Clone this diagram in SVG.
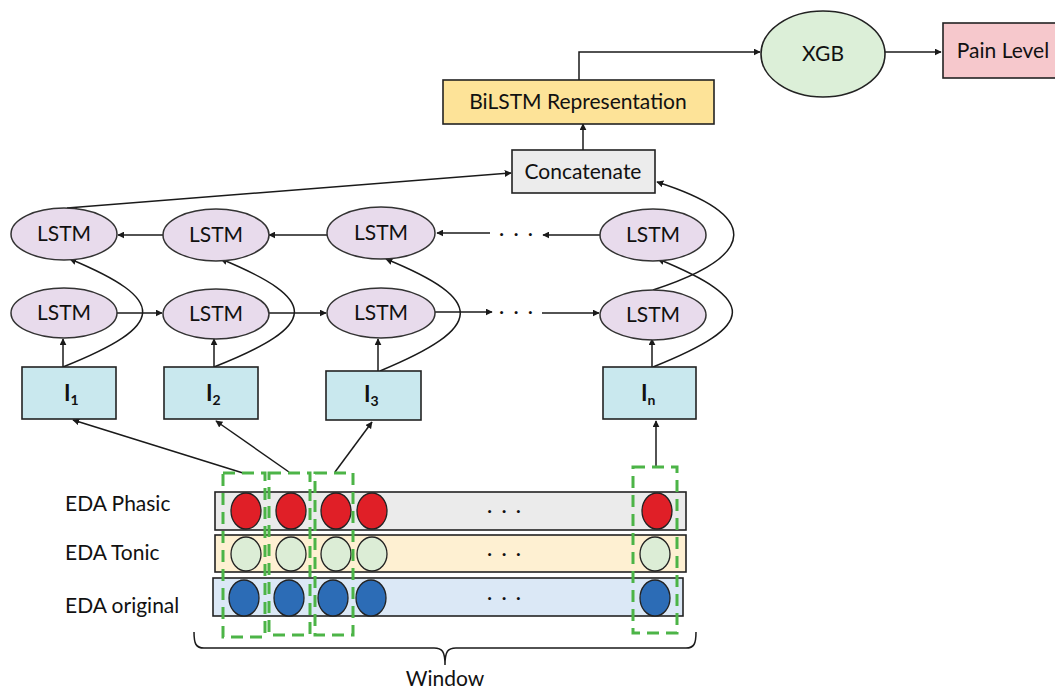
<svg xmlns="http://www.w3.org/2000/svg" width="1055" height="690" viewBox="0 0 1055 690">
  <defs>
    <marker id="arr" viewBox="0 0 10 10" refX="9" refY="5" markerWidth="7" markerHeight="7" markerUnits="userSpaceOnUse" orient="auto">
      <path d="M0,0 L10,5 L0,10 z" fill="#1a1a1a"/>
    </marker>
    <style>
      text { font-family: Lato, "Open Sans", "Liberation Sans", sans-serif; fill: #111; }
      .lbl { font-size: 21px; text-anchor: middle; }
      .side { font-size: 21px; }
      .box { stroke: #222; stroke-width: 1.6; }
      .lstm { fill: #e8dbec; stroke: #333; stroke-width: 1.5; }
      .inp { fill: #c9e8ee; stroke: #222; stroke-width: 1.6; }
      .conn { fill: none; stroke: #1a1a1a; stroke-width: 1.5; }
      .win { fill: none; stroke: #4cb447; stroke-width: 3; stroke-dasharray: 12 7; }
      .red { fill: #e01f27; stroke: #222; stroke-width: 1.3; }
      .grn { fill: #dcedd6; stroke: #222; stroke-width: 1.3; }
      .blu { fill: #2c6cb6; stroke: #222; stroke-width: 1.3; }
      .dots { font-size: 20px; text-anchor: middle; letter-spacing: 2px; }
      .iv { font-size: 22px; font-weight: bold; }
      .sub { font-size: 14px; font-weight: bold; }
    </style>
  </defs>

  <!-- connectors -->
  <g id="connectors" class="conn">
    <!-- output path -->
    <path d="M579,80 L579,52 L760,52" marker-end="url(#arr)"/>
    <path d="M885,52 L941,52" marker-end="url(#arr)"/>
    <path d="M583,150 L583,124" marker-end="url(#arr)"/>
    <path d="M67,208 L511,173" marker-end="url(#arr)"/>
    <path d="M653,290 C760,255 760,215 657,182" marker-end="url(#arr)"/>

    <!-- backward layer (right to left) -->
    <path d="M163,235 L118,235" marker-end="url(#arr)"/>
    <path d="M327,235 L269,235" marker-end="url(#arr)"/>
    <path d="M490,233 L437,233" marker-end="url(#arr)"/>
    <path d="M600,235 L543,235" marker-end="url(#arr)"/>

    <!-- forward layer (left to right) -->
    <path d="M117,313 L162,313" marker-end="url(#arr)"/>
    <path d="M268,313 L326,313" marker-end="url(#arr)"/>
    <path d="M435,312 L492,312" marker-end="url(#arr)"/>
    <path d="M542,313 L599,313" marker-end="url(#arr)"/>

    <!-- inputs into forward cells -->
    <path d="M63,367 L63,339" marker-end="url(#arr)"/>
    <path d="M214,367 L214,339" marker-end="url(#arr)"/>
    <path d="M378,371 L378,339" marker-end="url(#arr)"/>
    <path d="M652,367 L652,339" marker-end="url(#arr)"/>

    <!-- inputs into backward cells -->
    <path d="M63,367 C168,325 168,300 70,259" marker-end="url(#arr)"/>
    <path d="M214,367 C320,325 320,300 221,259" marker-end="url(#arr)"/>
    <path d="M380,371 C486,327 486,300 386,259" marker-end="url(#arr)"/>
    <path d="M653,367 C758,325 758,300 658,259" marker-end="url(#arr)"/>

    <!-- windows into input vectors -->
    <path d="M243,473 L73,420" marker-end="url(#arr)"/>
    <path d="M289,472 L216,421" marker-end="url(#arr)"/>
    <path d="M335,472 L372,422" marker-end="url(#arr)"/>
    <path d="M656,467 L656,421" marker-end="url(#arr)"/>
  </g>

  <!-- top pipeline -->
  <g id="xgb">
    <ellipse cx="823" cy="54" rx="62" ry="43" fill="#dcefd8" stroke="#222" stroke-width="1.6"/>
    <text class="lbl" x="823" y="61">XGB</text>
  </g>
  <g id="pain-level">
    <rect class="box" x="943" y="23" width="116" height="55" fill="#f6c8cc"/>
    <text class="lbl" x="1003" y="58">Pain Level</text>
  </g>
  <g id="bilstm-representation">
    <rect class="box" x="443" y="80" width="271" height="44" fill="#fde398"/>
    <text class="lbl" x="578" y="109">BiLSTM Representation</text>
  </g>
  <g id="concatenate">
    <rect class="box" x="512" y="150" width="143" height="43" fill="#ececec"/>
    <text class="lbl" x="583" y="179">Concatenate</text>
  </g>

  <!-- backward LSTM layer -->
  <g id="lstm-b1"><ellipse class="lstm" cx="64" cy="234" rx="53" ry="26"/><text class="lbl" x="64" y="241">LSTM</text></g>
  <g id="lstm-b2"><ellipse class="lstm" cx="216" cy="235" rx="53" ry="26"/><text class="lbl" x="216" y="242">LSTM</text></g>
  <g id="lstm-b3"><ellipse class="lstm" cx="381" cy="233" rx="54" ry="26"/><text class="lbl" x="381" y="240">LSTM</text></g>
  <g id="lstm-bn"><ellipse class="lstm" cx="653" cy="235" rx="53" ry="26"/><text class="lbl" x="653" y="242">LSTM</text></g>
  <text class="dots" x="517" y="240">· · ·</text>

  <!-- forward LSTM layer -->
  <g id="lstm-f1"><ellipse class="lstm" cx="64" cy="313" rx="53" ry="25"/><text class="lbl" x="64" y="320">LSTM</text></g>
  <g id="lstm-f2"><ellipse class="lstm" cx="216" cy="314" rx="53" ry="25"/><text class="lbl" x="216" y="321">LSTM</text></g>
  <g id="lstm-f3"><ellipse class="lstm" cx="381" cy="313" rx="54" ry="25"/><text class="lbl" x="381" y="320">LSTM</text></g>
  <g id="lstm-fn"><ellipse class="lstm" cx="653" cy="315" rx="53" ry="25"/><text class="lbl" x="653" y="322">LSTM</text></g>
  <text class="dots" x="517" y="318">· · ·</text>

  <!-- input vectors -->
  <g id="input-1"><rect class="inp" x="22" y="367" width="94" height="52"/><text class="iv" x="64" y="401">I<tspan class="sub" dy="4">1</tspan></text></g>
  <g id="input-2"><rect class="inp" x="164" y="367" width="94" height="52"/><text class="iv" x="206" y="401">I<tspan class="sub" dy="4">2</tspan></text></g>
  <g id="input-3"><rect class="inp" x="326" y="371" width="95" height="49"/><text class="iv" x="364" y="402">I<tspan class="sub" dy="4">3</tspan></text></g>
  <g id="input-n"><rect class="inp" x="603" y="367" width="93" height="52"/><text class="iv" x="641" y="401">I<tspan class="sub" dy="4">n</tspan></text></g>

  <!-- signal channels -->
  <g id="eda-phasic">
    <text class="side" x="65" y="511">EDA Phasic</text>
    <rect class="box" x="215" y="492" width="471" height="38" fill="#ebebeb"/>
    <ellipse class="red" cx="246" cy="511" rx="15" ry="18"/>
    <ellipse class="red" cx="291" cy="511" rx="15" ry="18"/>
    <ellipse class="red" cx="336" cy="511" rx="15" ry="18"/>
    <ellipse class="red" cx="372" cy="511" rx="15" ry="18"/>
    <ellipse class="red" cx="657" cy="511" rx="15" ry="18"/>
    <text class="dots" x="505" y="517">· · ·</text>
  </g>
  <g id="eda-tonic">
    <text class="side" x="65" y="560">EDA Tonic</text>
    <rect class="box" x="215" y="535" width="471" height="37" fill="#fef0d2"/>
    <ellipse class="grn" cx="246" cy="554" rx="15" ry="17"/>
    <ellipse class="grn" cx="291" cy="554" rx="15" ry="17"/>
    <ellipse class="grn" cx="336" cy="554" rx="15" ry="17"/>
    <ellipse class="grn" cx="372" cy="554" rx="15" ry="17"/>
    <ellipse class="grn" cx="655" cy="554" rx="15" ry="17"/>
    <text class="dots" x="505" y="560">· · ·</text>
  </g>
  <g id="eda-original">
    <text class="side" x="65" y="613">EDA original</text>
    <rect class="box" x="213" y="578" width="470" height="38" fill="#dbe8f6"/>
    <ellipse class="blu" cx="244" cy="598" rx="15" ry="18"/>
    <ellipse class="blu" cx="289" cy="598" rx="15" ry="18"/>
    <ellipse class="blu" cx="333" cy="598" rx="15" ry="18"/>
    <ellipse class="blu" cx="371" cy="598" rx="15" ry="18"/>
    <ellipse class="blu" cx="655" cy="598" rx="15" ry="18"/>
    <text class="dots" x="505" y="604">· · ·</text>
  </g>

  <!-- sliding windows -->
  <g id="windows">
    <rect class="win" x="223" y="473" width="42" height="164"/>
    <rect class="win" x="269" y="473" width="41" height="162"/>
    <rect class="win" x="315" y="473" width="38" height="162"/>
    <rect class="win" x="633" y="467" width="44" height="166"/>
  </g>

  <!-- window brace -->
  <g id="window-brace">
    <path class="conn" d="M194,632 C194,644 196,648 204,648 L434,648 C442,648 445,651 445,665 M445,665 C445,651 448,648 456,648 L686,648 C694,648 696,644 696,632"/>
    <text class="lbl" x="445" y="686">Window</text>
  </g>
</svg>
